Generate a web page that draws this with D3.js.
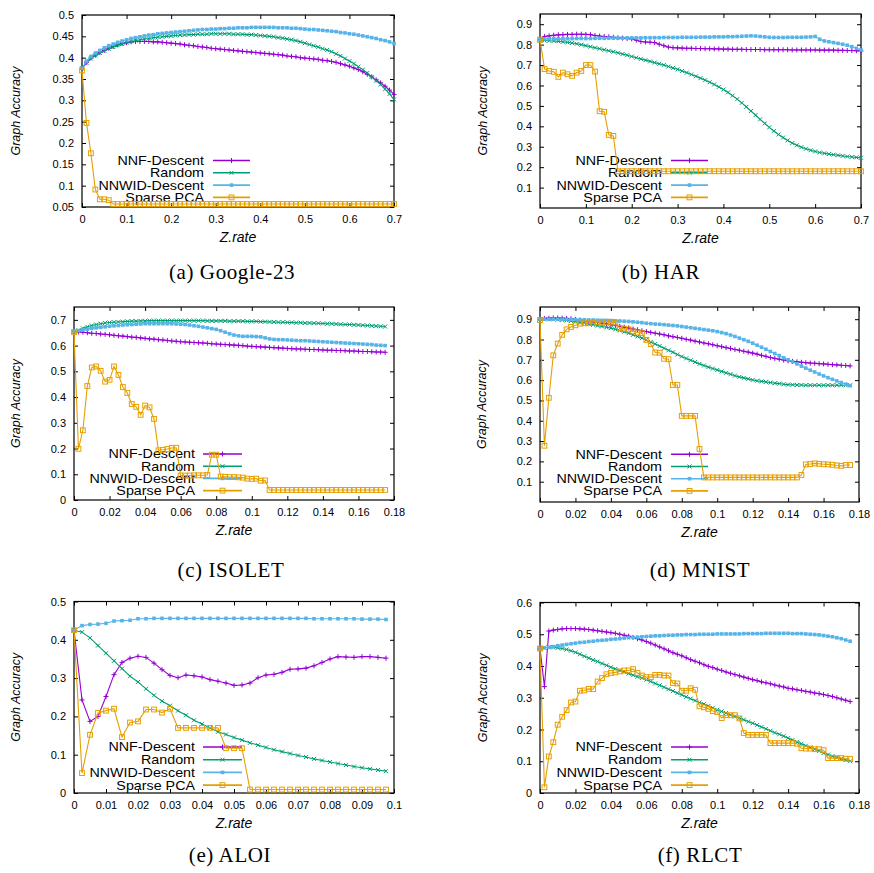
<!DOCTYPE html>
<html>
<head>
<meta charset="utf-8"/>
<title>Graph Accuracy vs Z.rate</title>
<script src="https://cdn.jsdelivr.net/npm/d3@7"></script>
<style>
  body { margin: 0; background: #fff; }
  svg text { font-family: "Liberation Sans", Arial, sans-serif; fill: #000; }
  svg text.caption { font-family: "Liberation Serif", "Times New Roman", serif; }
</style>
</head>
<body>
<svg id="chart" width="874" height="873"></svg>
<script>
// ---- data ----
var seriesNames = ["NNF-Descent", "Random", "NNWID-Descent", "Sparse PCA"];

// (a) Google-23, x = 0..0.70 step 0.01
var googleNNF = [.375,.389,.399,.406,.412,.417,.422,.426,.430,.433,
  .435,.437,.438,.438,.438,.438,.437,.437,.436,.435,
  .434,.433,.432,.430,.429,.428,.426,.425,.424,.422,
  .421,.420,.419,.418,.417,.416,.415,.414,.413,.412,
  .411,.410,.409,.408,.407,.406,.404,.403,.402,.400,
  .399,.398,.397,.396,.394,.393,.391,.389,.386,.383,
  .380,.376,.372,.367,.361,.355,.348,.341,.333,.324,.314];
var googleRandom = [.375,.388,.398,.405,.411,.416,.421,.425,.429,.432,
  .435,.438,.440,.442,.444,.445,.447,.448,.449,.450,
  .451,.452,.453,.453,.454,.454,.455,.455,.455,.456,
  .456,.456,.456,.456,.455,.455,.455,.454,.454,.453,
  .452,.451,.450,.449,.447,.446,.444,.442,.440,.437,
  .434,.431,.428,.425,.421,.418,.414,.409,.404,.398,
  .392,.386,.379,.372,.364,.355,.346,.337,.326,.315,.302];
var googleNNWID = [.375,.392,.403,.411,.417,.423,.428,.432,.436,.439,
  .442,.445,.447,.449,.451,.453,.454,.456,.457,.458,
  .459,.460,.461,.462,.463,.464,.465,.466,.466,.467,
  .467,.468,.468,.469,.469,.470,.470,.470,.471,.471,
  .471,.471,.471,.471,.470,.470,.470,.469,.469,.468,
  .467,.466,.466,.465,.464,.463,.462,.461,.459,.458,
  .456,.455,.453,.451,.449,.447,.445,.442,.440,.437,.433];
var googleSPCA = [.370,.247,.176,.091,.068,.068,.066,.057,.057,.057,
  .057,.057,.057,.057,.057,.057,.057,.057,.057,.057,
  .057,.057,.057,.057,.057,.057,.057,.057,.057,.057,
  .057,.057,.057,.057,.057,.057,.057,.057,.057,.057,
  .057,.057,.057,.057,.057,.057,.057,.057,.057,.057,
  .057,.057,.057,.057,.057,.057,.057,.057,.057,.057,
  .057,.057,.057,.057,.057,.057,.057,.057,.057,.057,.057];

// (b) HAR, x = 0..0.70 step 0.01
var harNNF = [.825,.840,.843,.846,.848,.849,.850,.850,.851,.851,
  .850,.849,.845,.842,.840,.838,.836,.834,.832,.830,
  .828,.822,.815,.813,.812,.810,.802,.795,.788,.785,
  .784,.783,.782,.782,.781,.781,.780,.780,.779,.779,
  .778,.778,.777,.777,.777,.776,.776,.776,.776,.775,
  .775,.775,.775,.775,.775,.774,.774,.774,.774,.774,
  .774,.773,.773,.773,.773,.772,.772,.771,.771,.770,.769];
var harRandom = [.820,.820,.819,.818,.816,.814,.811,.808,.804,.800,
  .795,.790,.785,.780,.775,.770,.765,.760,.754,.748,
  .742,.736,.730,.724,.718,.712,.706,.700,.693,.686,
  .679,.671,.663,.654,.645,.636,.626,.616,.605,.593,
  .580,.566,.550,.533,.515,.495,.475,.455,.434,.414,
  .395,.377,.360,.345,.331,.318,.307,.298,.290,.283,
  .277,.272,.268,.264,.261,.258,.255,.252,.250,.248,.246];
var harNNWID = [.825,.828,.829,.829,.829,.829,.829,.829,.830,.830,
  .830,.830,.831,.831,.831,.832,.832,.832,.832,.833,
  .833,.833,.833,.834,.834,.834,.834,.835,.835,.835,
  .835,.836,.836,.836,.836,.837,.837,.837,.838,.838,
  .838,.839,.839,.840,.841,.842,.843,.842,.840,.838,
  .836,.835,.835,.835,.836,.836,.836,.836,.837,.838,
  .840,.826,.818,.814,.810,.806,.802,.797,.790,.782,.774];
var harSPCA = [.825,.680,.671,.667,.642,.663,.655,.647,.663,.671,
  .700,.700,.668,.474,.471,.358,.353,.180,.180,.180,
  .180,.180,.180,.180,.180,.180,.180,.180,.180,.180,
  .180,.180,.180,.180,.180,.180,.180,.180,.180,.180,
  .180,.180,.180,.180,.180,.180,.180,.180,.180,.180,
  .180,.180,.180,.180,.180,.180,.180,.180,.180,.180,
  .180,.180,.180,.180,.180,.180,.180,.180,.180,.180,.180];

// (c) ISOLET, x = 0..0.175 step 0.0025
var isoletNNF = [.655,.653,.652,.650,.648,.647,.645,.644,.642,.640,
  .638,.637,.635,.633,.632,.630,.628,.626,.625,.623,
  .622,.620,.618,.617,.615,.614,.613,.612,.611,.610,
  .609,.607,.606,.605,.604,.603,.602,.601,.600,.598,
  .597,.596,.595,.594,.593,.592,.591,.590,.589,.588,
  .587,.587,.586,.585,.585,.584,.583,.582,.582,.581,
  .581,.580,.579,.579,.578,.577,.577,.576,.575,.575,.574];
var isoletRandom = [.654,.660,.667,.673,.678,.682,.685,.688,.690,.691,
  .692,.693,.694,.695,.695,.696,.696,.697,.697,.697,
  .697,.697,.697,.697,.697,.697,.697,.697,.697,.697,
  .696,.696,.696,.696,.696,.695,.695,.695,.695,.694,
  .694,.694,.693,.693,.692,.692,.691,.691,.690,.690,
  .689,.689,.688,.688,.687,.687,.686,.685,.685,.684,
  .683,.682,.682,.681,.680,.679,.678,.677,.676,.675,.674];
var isoletNNWID = [.655,.658,.661,.664,.667,.669,.671,.673,.675,.677,
  .678,.680,.681,.682,.683,.684,.685,.685,.685,.685,
  .685,.685,.685,.684,.683,.682,.680,.677,.675,.672,
  .669,.666,.663,.658,.652,.646,.641,.638,.636,.636,
  .636,.635,.634,.630,.626,.624,.623,.623,.622,.621,
  .620,.619,.619,.618,.617,.616,.615,.614,.613,.612,
  .611,.610,.609,.608,.607,.606,.605,.604,.602,.601,.600];
var isoletSPCA = [.652,.199,.271,.443,.515,.519,.502,.460,.467,.519,
  .486,.439,.416,.373,.362,.331,.367,.360,.315,.193,
  .195,.198,.202,.203,.095,.095,.095,.096,.096,.096,
  .097,.176,.176,.091,.090,.089,.089,.088,.087,.083,
  .082,.083,.075,.076,.039,.039,.039,.039,.039,.039,
  .039,.039,.039,.039,.039,.039,.039,.039,.039,.039,
  .039,.039,.039,.039,.039,.039,.039,.039,.039,.039,.039];

// (d) MNIST, x = 0..0.175 step 0.0025
var mnistNNF = [.900,.903,.905,.906,.906,.905,.904,.902,.899,.896,
  .893,.890,.887,.884,.881,.877,.873,.869,.865,.861,
  .857,.852,.848,.843,.839,.835,.831,.827,.823,.818,
  .814,.810,.806,.801,.797,.792,.788,.783,.779,.774,
  .769,.765,.760,.756,.751,.747,.742,.738,.733,.728,
  .722,.717,.711,.707,.703,.699,.695,.692,.690,.688,
  .686,.684,.683,.681,.680,.678,.676,.675,.673,.672,.670];
var mnistRandom = [.900,.900,.900,.899,.898,.896,.894,.891,.888,.884,
  .880,.876,.872,.868,.864,.860,.856,.850,.844,.838,
  .831,.823,.815,.807,.798,.788,.778,.768,.757,.747,
  .737,.726,.716,.707,.698,.689,.680,.672,.664,.657,
  .650,.643,.636,.629,.622,.616,.611,.606,.601,.597,
  .594,.591,.588,.585,.583,.580,.578,.577,.576,.576,
  .575,.575,.575,.575,.575,.575,.575,.575,.575,.575,.575];
var mnistNNWID = [.900,.900,.900,.900,.900,.899,.899,.898,.898,.897,
  .897,.896,.896,.895,.894,.894,.893,.892,.891,.890,
  .889,.887,.885,.883,.880,.878,.876,.875,.873,.871,
  .869,.867,.864,.861,.858,.855,.852,.849,.846,.843,
  .839,.834,.829,.822,.815,.807,.799,.791,.782,.772,
  .762,.752,.741,.731,.721,.710,.700,.690,.680,.669,
  .659,.649,.640,.630,.621,.612,.604,.596,.588,.580,.573];
var mnistSPCA = [.895,.277,.513,.722,.780,.823,.850,.862,.870,.878,
  .880,.880,.881,.885,.887,.887,.887,.883,.856,.853,
  .850,.840,.835,.831,.798,.778,.736,.735,.705,.703,
  .576,.576,.424,.424,.424,.424,.261,.121,.121,.121,
  .121,.121,.121,.121,.121,.121,.121,.121,.121,.121,
  .121,.121,.121,.121,.121,.121,.121,.121,.121,.133,
  .185,.187,.190,.188,.186,.185,.183,.180,.178,.182,.182];

// (e) ALOI, x = 0..0.0975 step 0.0025
var aloiNNF = [.425,.243,.187,.200,.252,.309,.341,.352,.357,.354,
  .339,.322,.307,.301,.308,.306,.303,.296,.292,.287,
  .281,.282,.287,.301,.308,.310,.315,.323,.324,.326,
  .332,.341,.350,.356,.355,.354,.356,.356,.354,.352];
var aloiRandom = [.425,.420,.405,.385,.365,.345,.325,.305,.290,.272,
  .255,.240,.228,.215,.203,.190,.180,.170,.160,.153,
  .145,.138,.131,.125,.119,.113,.108,.103,.098,.094,
  .089,.085,.081,.077,.073,.069,.066,.063,.060,.057];
var aloiNNWID = [.425,.437,.440,.441,.443,.449,.450,.451,.455,.455,
  .456,.456,.456,.456,.456,.456,.456,.456,.456,.456,
  .456,.456,.456,.456,.456,.456,.456,.456,.456,.456,
  .455,.455,.455,.455,.455,.455,.454,.454,.454,.453];
var aloiSPCA = [.425,.052,.152,.209,.215,.220,.146,.184,.187,.218,
  .218,.210,.220,.170,.170,.170,.170,.170,.170,.117,
  .117,.117,.009,.009,.009,.009,.009,.009,.009,.009,
  .009,.009,.009,.009,.009,.009,.009,.009,.009,.009];

// (f) RLCT, x = 0..0.175 step 0.0025
var rlctNNF = [.455,.335,.510,.513,.515,.517,.518,.518,.518,.517,
  .516,.515,.513,.511,.509,.507,.505,.503,.500,.497,
  .494,.490,.486,.482,.477,.472,.466,.460,.454,.448,
  .442,.437,.432,.426,.420,.415,.410,.404,.399,.395,
  .390,.386,.381,.377,.373,.369,.365,.361,.357,.354,
  .350,.347,.344,.340,.337,.334,.330,.328,.325,.323,
  .320,.318,.315,.313,.310,.307,.304,.300,.296,.292,.288];
var rlctRandom = [.455,.458,.459,.459,.457,.455,.452,.448,.443,.437,
  .431,.425,.419,.414,.408,.402,.396,.391,.386,.381,
  .376,.371,.366,.362,.357,.351,.345,.339,.333,.327,
  .321,.315,.309,.303,.297,.291,.285,.280,.274,.268,
  .262,.257,.252,.246,.241,.236,.231,.225,.220,.214,
  .208,.202,.196,.190,.185,.179,.173,.167,.161,.155,
  .149,.143,.138,.132,.126,.121,.116,.112,.108,.104,.100];
var rlctNNWID = [.455,.457,.459,.461,.464,.466,.468,.470,.472,.474,
  .475,.477,.478,.480,.481,.482,.484,.485,.486,.488,
  .489,.490,.491,.492,.493,.494,.495,.495,.496,.497,
  .497,.498,.498,.499,.499,.499,.500,.500,.500,.500,
  .501,.501,.501,.501,.501,.501,.502,.502,.502,.502,
  .502,.503,.503,.503,.503,.503,.503,.502,.502,.502,
  .501,.500,.499,.498,.496,.494,.492,.489,.486,.482,.478];
var rlctSPCA = [.455,.018,.115,.160,.215,.240,.261,.285,.288,.322,
  .323,.328,.327,.351,.362,.374,.378,.380,.383,.386,
  .386,.390,.378,.370,.365,.365,.372,.372,.370,.370,
  .346,.345,.322,.322,.330,.325,.273,.270,.265,.258,
  .255,.236,.245,.245,.245,.235,.189,.183,.183,.183,
  .183,.183,.157,.157,.157,.157,.157,.157,.155,.141,
  .140,.140,.138,.138,.135,.110,.110,.110,.110,.108,.107];

// tick values
var xTicksWide = [0, 0.1, 0.2, 0.3, 0.4, 0.5, 0.6, 0.7];
var xTicksNarrow = [0, 0.02, 0.04, 0.06, 0.08, 0.1, 0.12, 0.14, 0.16, 0.18];
var xTicksAloi = [0, 0.01, 0.02, 0.03, 0.04, 0.05, 0.06, 0.07, 0.08, 0.09, 0.1];
var yTicksGoogle = [0.05, 0.1, 0.15, 0.2, 0.25, 0.3, 0.35, 0.4, 0.45, 0.5];
var yTicksHar = [0.1, 0.2, 0.3, 0.4, 0.5, 0.6, 0.7, 0.8, 0.9];
var yTicksIsolet = [0, 0.1, 0.2, 0.3, 0.4, 0.5, 0.6, 0.7];
var yTicksMnist = [0.1, 0.2, 0.3, 0.4, 0.5, 0.6, 0.7, 0.8, 0.9];
var yTicksAloi = [0, 0.1, 0.2, 0.3, 0.4, 0.5];
var yTicksRlct = [0, 0.1, 0.2, 0.3, 0.4, 0.5, 0.6];

// ---- layout / style ----
var colors = ["#9400d3", "#009e73", "#56b4e9", "#e69f00"];
var markers = ["plus", "cross", "fsquare", "osquare"];

var panels = [
  {caption: "(a) Google-23", box: [82, 394, 15, 207], xDom: [0, 0.7], yDom: [0.05, 0.5],
   xTicks: xTicksWide, yTicks: yTicksGoogle, step: 0.01,
   series: [googleNNF, googleRandom, googleNNWID, googleSPCA],
   key: [204, 213, 250, 160.5, 12.3], ylabX: 20, capX: 232, capY: 279},
  {caption: "(b) HAR", box: [540, 861, 14, 208], xDom: [0, 0.7], yDom: [0, 0.95],
   xTicks: xTicksWide, yTicks: yTicksHar, step: 0.01,
   series: [harNNF, harRandom, harNNWID, harSPCA],
   key: [662, 671, 708, 160.5, 12.3], ylabX: 487, capX: 661, capY: 279},
  {caption: "(c) ISOLET", box: [74, 394, 307, 500], xDom: [0, 0.18], yDom: [0, 0.75],
   xTicks: xTicksNarrow, yTicks: yTicksIsolet, step: 0.0025,
   series: [isoletNNF, isoletRandom, isoletNNWID, isoletSPCA],
   key: [195, 203, 242, 454, 12.2], ylabX: 20, capX: 231, capY: 577},
  {caption: "(d) MNIST", box: [540, 859, 307, 502], xDom: [0, 0.18], yDom: [0, 0.96],
   xTicks: xTicksNarrow, yTicks: yTicksMnist, step: 0.0025,
   series: [mnistNNF, mnistRandom, mnistNNWID, mnistSPCA],
   key: [662, 671, 708, 454.3, 12.2], ylabX: 486, capX: 700, capY: 577},
  {caption: "(e) ALOI", box: [74, 394, 601.5, 793], xDom: [0, 0.1], yDom: [0, 0.5],
   xTicks: xTicksAloi, yTicks: yTicksAloi, step: 0.0025,
   series: [aloiNNF, aloiRandom, aloiNNWID, aloiSPCA],
   key: [195, 203, 242, 747, 12.7], ylabX: 20, capX: 230, capY: 862},
  {caption: "(f) RLCT", box: [540, 859, 602.5, 793], xDom: [0, 0.18], yDom: [0, 0.6],
   xTicks: xTicksNarrow, yTicks: yTicksRlct, step: 0.0025,
   series: [rlctNNF, rlctRandom, rlctNNWID, rlctSPCA],
   key: [662, 671, 708, 747, 12.7], ylabX: 487, capX: 700, capY: 862}
];

var svg = d3.select("#chart");
var fmt = d3.format("~g");

function drawMarker(g, type, color) {
  if (type === "plus") {
    g.append("path").attr("d", "M-2.5,0H2.5M0,-2.5V2.5")
      .attr("stroke", color).attr("stroke-width", 1).attr("fill", "none");
  } else if (type === "cross") {
    g.append("path").attr("d", "M-2,-2L2,2M-2,2L2,-2")
      .attr("stroke", color).attr("stroke-width", 1).attr("fill", "none");
  } else if (type === "fsquare") {
    g.append("rect").attr("x", -1.8).attr("y", -1.8).attr("width", 3.6).attr("height", 3.6)
      .attr("fill", color);
  } else {
    g.append("rect").attr("x", -2.4).attr("y", -2.4).attr("width", 4.8).attr("height", 4.8)
      .attr("fill", "none").attr("stroke", color).attr("stroke-width", 1);
  }
}

function drawPanel(p) {
  var L = p.box[0], R = p.box[1], T = p.box[2], B = p.box[3];
  var x = d3.scaleLinear().domain(p.xDom).range([L, R]);
  var y = d3.scaleLinear().domain(p.yDom).range([B, T]);
  var g = svg.append("g");

  // axes: gnuplot style, ticks pointing inward on all four sides
  g.append("g").attr("transform", "translate(0," + B + ")")
    .call(d3.axisBottom(x).tickValues(p.xTicks).tickFormat(fmt).tickSize(-4).tickPadding(8));
  g.append("g").attr("transform", "translate(0," + T + ")")
    .call(d3.axisTop(x).tickValues(p.xTicks).tickFormat("").tickSize(-4));
  g.append("g").attr("transform", "translate(" + L + ",0)")
    .call(d3.axisLeft(y).tickValues(p.yTicks).tickFormat(fmt).tickSize(-4).tickPadding(8));
  g.append("g").attr("transform", "translate(" + R + ",0)")
    .call(d3.axisRight(y).tickValues(p.yTicks).tickFormat("").tickSize(-4));
  g.selectAll(".domain").remove();
  g.selectAll(".tick line").attr("stroke", "#000");
  g.selectAll(".tick text").attr("font-size", 11).attr("fill", "#111")
    .style("font-family", "'Liberation Sans', Arial, sans-serif");

  g.append("rect").attr("x", L).attr("y", T).attr("width", R - L).attr("height", B - T)
    .attr("fill", "none").attr("stroke", "#000").attr("stroke-width", 1.2);

  // axis titles
  g.append("text").attr("x", (L + R) / 2).attr("y", B + 35)
    .attr("text-anchor", "middle").attr("font-size", 14).attr("font-style", "italic")
    .text("Z.rate");
  g.append("text").attr("transform", "translate(" + p.ylabX + "," + ((T + B) / 2) + ") rotate(-90)")
    .attr("text-anchor", "middle").attr("font-size", 12.5).attr("font-style", "italic")
    .text("Graph Accuracy");

  // key (text is wide and short in the original, so stretch it horizontally)
  var k = p.key;
  seriesNames.forEach(function (name, i) {
    var cy = k[3] + i * k[4];
    g.append("text").attr("transform", "translate(" + k[0] + "," + (cy + 4.4) + ") scale(1.1,1)")
      .attr("text-anchor", "end").attr("font-size", 13).text(name);
    g.append("line").attr("x1", k[1]).attr("x2", k[2]).attr("y1", cy).attr("y2", cy)
      .attr("stroke", colors[i]).attr("stroke-width", 1.6);
    drawMarker(g.append("g").attr("transform", "translate(" + ((k[1] + k[2]) / 2) + "," + cy + ")"),
      markers[i], colors[i]);
  });

  // curves
  p.series.forEach(function (vals, i) {
    var pts = vals.map(function (v, j) { return [j * p.step, v]; });
    var line = d3.line().x(function (d) { return x(d[0]); }).y(function (d) { return y(d[1]); });
    var sg = g.append("g");
    sg.append("path").attr("d", line(pts)).attr("fill", "none")
      .attr("stroke", colors[i]).attr("stroke-width", 1.1);
    sg.selectAll("g.pt").data(pts).enter().append("g").attr("class", "pt")
      .attr("transform", function (d) { return "translate(" + x(d[0]) + "," + y(d[1]) + ")"; })
      .each(function () { drawMarker(d3.select(this), markers[i], colors[i]); });
  });

  // caption
  svg.append("text").attr("class", "caption").attr("x", p.capX).attr("y", p.capY)
    .attr("text-anchor", "middle").attr("font-size", 21).attr("letter-spacing", 0.6)
    .text(p.caption);
}

panels.forEach(drawPanel);
</script>
</body>
</html>
